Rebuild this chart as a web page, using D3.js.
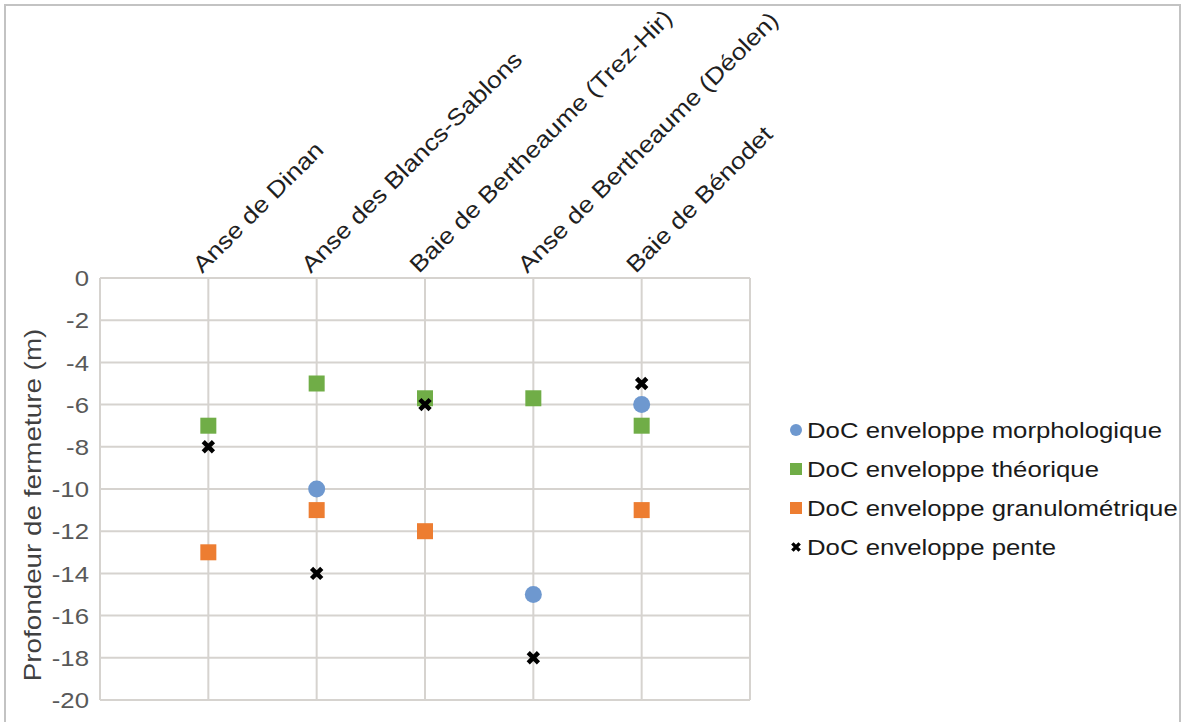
<!DOCTYPE html>
<html><head><meta charset="utf-8">
<script src="https://cdn.jsdelivr.net/npm/d3@7"></script>
<style>body{margin:0;background:#fff}svg{display:block}text{font-family:"Liberation Sans",Arial,sans-serif}</style>
</head><body>
<svg id="c" width="1189" height="722"></svg>
<script>
const categories = ["Anse de Dinan","Anse des Blancs-Sablons","Baie de Bertheaume (Trez-Hir)","Anse de Bertheaume (Déolen)","Baie de Bénodet"];
const morphologique = [null, -10, null, -15, -6];
const theorique = [-7, -5, -5.7, -5.7, -7];
const granulometrique = [-13, -11, -12, null, -11];
const pente = [-8, -14, -6, -18, -5];
const seriesNames = ["DoC enveloppe morphologique","DoC enveloppe théorique","DoC enveloppe granulométrique","DoC enveloppe pente"];
const yTicks = [0,-2,-4,-6,-8,-10,-12,-14,-16,-18,-20];
const yTitle = "Profondeur de fermeture (m)";

const FS = 23, SX = 1.12;
const svg = d3.select("#c");
svg.append("rect").attr("x",5).attr("y",5).attr("width",1175).attr("height",730)
  .attr("fill","none").attr("stroke","#c3c3c3").attr("stroke-width",2);

const x = d3.scaleLinear().domain([0, categories.length+1]).range([100, 750]);
const y = d3.scaleLinear().domain([-20, 0]).range([700, 278]);
const grid = "#d6d3cf";

svg.append("g").selectAll("line").data(yTicks).join("line")
  .attr("x1", x(0)).attr("x2", x(6)).attr("y1", d=>y(d)).attr("y2", d=>y(d))
  .attr("stroke", grid).attr("stroke-width", 2);
svg.append("g").selectAll("line").data(d3.range(0, categories.length+2)).join("line")
  .attr("x1", d=>x(d)).attr("x2", d=>x(d)).attr("y1", y(0)).attr("y2", y(-20))
  .attr("stroke", grid).attr("stroke-width", 2);

svg.append("g").selectAll("text").data(y.ticks(10).filter(t=>yTicks.includes(t))).join("text")
  .attr("transform", d=>`translate(${x(0)-11},${y(d)}) scale(${SX},1)`)
  .attr("text-anchor","end").attr("dy","0.36em").attr("font-size",FS).attr("fill","#595959")
  .text(d=>String(d));

svg.append("text").attr("transform", `translate(41,505) rotate(-90) scale(1.16,1)`)
  .attr("text-anchor","middle").attr("font-size",24).attr("fill","#404040").text(yTitle);

svg.append("g").selectAll("text").data(categories).join("text")
  .attr("transform", (d,i)=>`translate(${x(i+1)-6},${y(0)-4}) rotate(-45) scale(1.15,1)`)
  .attr("font-size", FS).attr("fill", "#1f1f1f").text(d=>d);

const colors = ["#6e98cf", "#70ad47", "#ed7d31", "#000"];
const pts = s => s.map((v,i)=>({v,i})).filter(d=>d.v!=null);

function squares(data, color) {
  svg.append("g").selectAll("rect").data(pts(data)).join("rect")
    .attr("x", d=>x(d.i+1)-8).attr("y", d=>y(d.v)-8).attr("width",16).attr("height",16).attr("fill", color);
}
squares(theorique, colors[1]);
squares(granulometrique, colors[2]);
svg.append("g").selectAll("circle").data(pts(morphologique)).join("circle")
  .attr("cx", d=>x(d.i+1)).attr("cy", d=>y(d.v)).attr("r", 8.5).attr("fill", colors[0]);
const xs = d3.symbol(d3.symbolX, 70);
svg.append("g").selectAll("path").data(pts(pente)).join("path")
  .attr("transform", d=>`translate(${x(d.i+1)},${y(d.v)})`).attr("d", xs)
  .attr("stroke", "#000").attr("stroke-width", 4.5).attr("fill","none");

const lg = svg.append("g").attr("transform","translate(796,430)");
seriesNames.forEach((n,i)=>{
  const g = lg.append("g").attr("transform",`translate(0,${i*39})`);
  if (i===0) g.append("circle").attr("r",6).attr("fill",colors[0]);
  else if (i<3) g.append("rect").attr("x",-6).attr("y",-6).attr("width",12).attr("height",12).attr("fill",colors[i]);
  else g.append("path").attr("d", d3.symbol(d3.symbolX, 36)).attr("stroke","#000").attr("stroke-width",3.5).attr("fill","none");
  g.append("text").attr("transform",`translate(11,0) scale(${SX},1)`).attr("dy","0.36em").attr("font-size",FS).attr("fill","#1a1a1a").text(n);
});
</script>
</body></html>
